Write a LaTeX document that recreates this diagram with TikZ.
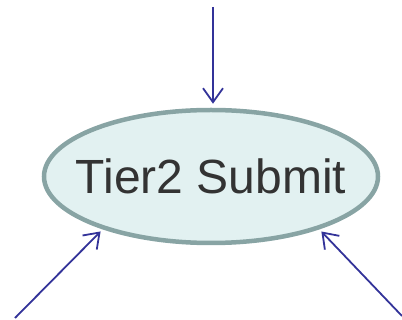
\documentclass[tikz,border=0pt]{standalone}
\usepackage{fontspec}
\setmainfont{Liberation Sans}
\usetikzlibrary{shapes.geometric,arrows.meta}
\definecolor{ringc}{HTML}{88A4A4}
\definecolor{fillc}{HTML}{E2F1F1}
\definecolor{arrc}{HTML}{333399}
\definecolor{txtc}{HTML}{333333}
\begin{document}
\begin{tikzpicture}[x=1pt,y=-1pt,
  bubble/.style={ellipse,draw=ringc,line width=4.5pt,fill=fillc,minimum width=334pt,minimum height=133pt,inner sep=0pt},
  caption/.style={text=txtc,inner sep=0pt,font=\fontsize{48}{54}\selectfont},
  feed/.style={draw=arrc,line width=1.8pt,-{Straight Barb[length=14pt,width=20pt,line width=1.8pt]}}]
\useasboundingbox (0,0) rectangle (402,320);
\node[bubble] (e) at (211,176.5) {};
\node[caption] (lbl) at (e.center) {Tier2 Submit};
\coordinate (t) at (213,7);
\coordinate (l) at (15,318);
\coordinate (r) at (402,316);
\draw[feed,shorten >=4pt] (t) -- (e.north -| t);
\draw[feed,shorten >=3pt] (l) -- (e.206);
\draw[feed,shorten >=3pt] (r) -- (e.334);
\end{tikzpicture}
\end{document}
